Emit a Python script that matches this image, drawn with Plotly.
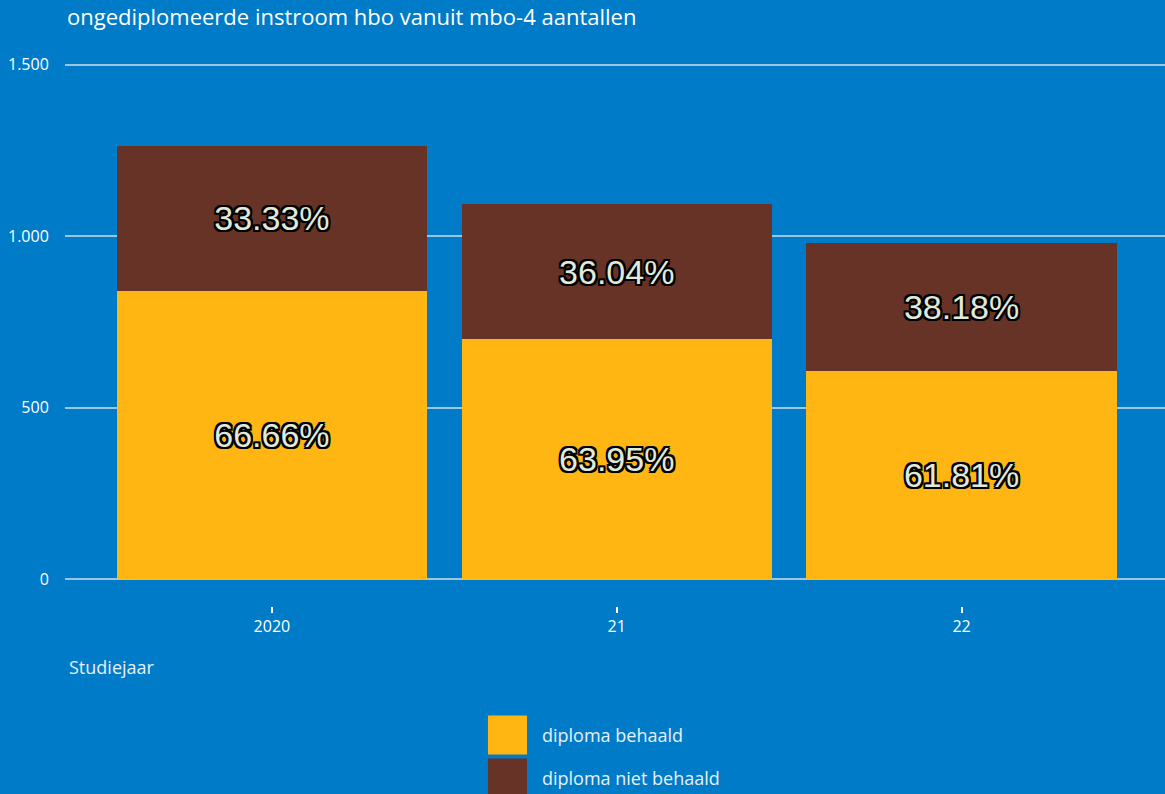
import plotly.graph_objects as go

years = ["2020", "21", "22"]
behaald = [841, 699, 606]
niet_behaald = [421, 394, 374]
pct_behaald = ["66.66%", "63.95%", "61.81%"]
pct_niet = ["33.33%", "36.04%", "38.18%"]
series_names = ["diploma behaald", "diploma niet behaald"]
colors = ["#ffb612", "#673327"]
yticks = [0, 500, 1000, 1500]

BG = "#007bc7"
UI_FONT = "Open Sans"
label_font = dict(family="Liberation Sans, Arial", size=34, color="#e0eadc",
                  shadow="2px 0 0 #000, -2px 0 0 #000, 0 2px 0 #000, 0 -2px 0 #000, 2px 2px 0 #000, -2px -2px 0 #000, 2px -2px 0 #000, -2px 2px 0 #000")

fig = go.Figure()
for vals, txt, name, col in [(behaald, pct_behaald, series_names[0], colors[0]),
                             (niet_behaald, pct_niet, series_names[1], colors[1])]:
    fig.add_trace(go.Bar(x=years, y=vals, name=name, marker=dict(color=col, line=dict(width=0)),
                         text=txt, textposition="inside", insidetextanchor="middle",
                         textfont=label_font, showlegend=False))

# custom legend (swatches + labels)
for i, (name, col) in enumerate(zip(series_names, colors)):
    y0 = -0.2015 - i * 0.0795
    fig.add_shape(type="rect", xref="paper", yref="paper", x0=0.3845, x1=0.42,
                  y0=y0 - 0.072, y1=y0, fillcolor=col, line=dict(width=0))
    fig.add_annotation(xref="paper", yref="paper", x=0.4318, y=y0 - 0.036, text=name,
                       showarrow=False, xanchor="left", yanchor="middle",
                       font=dict(family=UI_FONT, size=18, color="#e8f0f7"))

fig.add_annotation(xref="paper", yref="paper", x=0.0018, y=-0.113, text="Studiejaar",
                   showarrow=False, xanchor="left", yanchor="middle",
                   font=dict(family=UI_FONT, size=18, color="#e8f0f7"))

fig.update_layout(
    width=1165, height=794,
    paper_bgcolor=BG, plot_bgcolor=BG,
    barmode="stack", bargap=0.1,
    margin=dict(l=65, r=0, t=63, b=188),
    separators=",.",
    title=dict(text="ongediplomeerde instroom hbo vanuit mbo-4 aantallen",
               x=67 / 1165, xref="container", xanchor="left",
               y=1 - 17 / 794, yref="container", yanchor="middle",
               font=dict(family=UI_FONT, size=22, color="#ffffff")),
    xaxis=dict(range=[-0.6, 2.59], showgrid=False, zeroline=False, showline=False,
               ticks="outside", ticklen=6, tickwidth=2, tickcolor="#ffffff",
               tickfont=dict(family=UI_FONT, size=16, color="#ffffff")),
    yaxis=dict(range=[-79, 1505], tickvals=yticks, tickformat=",",
               showgrid=True, gridcolor="#9cc5e3", gridwidth=2, zeroline=False,
               ticks="outside", ticklen=12, tickcolor="rgba(0,0,0,0)",
               tickfont=dict(family=UI_FONT, size=16, color="#ffffff")),
)

fig.write_html("out.html", config={"displayModeBar": False},
               post_script="document.body.style.margin='0';document.body.style.background='%s';" % BG)
